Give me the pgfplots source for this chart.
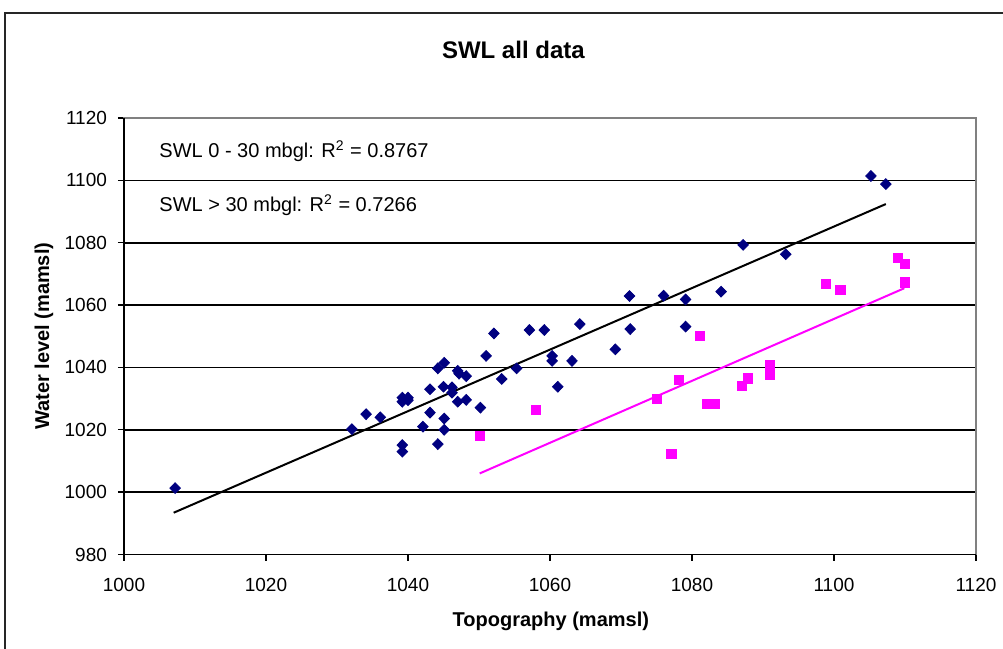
\documentclass[border=0pt]{standalone}
\usepackage{fontspec}
\setmainfont{Liberation Sans}
\usepackage{pgfplots}
\pgfplotsset{compat=1.18}
\definecolor{navy}{RGB}{0,0,128}
\definecolor{mag}{RGB}{255,0,255}
\begin{document}
\begin{tikzpicture}
\useasboundingbox (0,0) rectangle (501.5pt,324.5pt);
\draw[line width=1pt, black!85] (2.5pt,0) -- (2.5pt,318pt) -- (501.5pt,318pt);
\begin{axis}[
  at={(62pt,47.25pt)}, anchor=south west,
  scale only axis, width=426pt, height=218.25pt,
  xmin=1000, xmax=1120, ymin=980, ymax=1120,
  xtick={1000,1020,...,1120}, ytick={980,1000,...,1120},
  tick align=outside, major tick length=3pt,
  tick style={black, line width=0.7pt},
  xtick pos=bottom, ytick pos=left,
  axis line style={draw=gray, line width=0.7pt},
  ymajorgrids, grid style={black, line width=0.8pt},
  /pgf/number format/assume math mode=true,
  /pgf/number format/1000 sep={},
  ticklabel style={font=\fontsize{9.5}{11}\selectfont},
  xticklabel style={yshift=-5.5pt},
  yticklabel style={xshift=-2pt},
  title={\bfseries SWL all data},
  title style={font=\fontsize{12}{14}\selectfont, at={(rel axis cs:0.457,1.1285)}, anchor=center},
  xlabel={\bfseries Topography (mamsl)},
  xlabel style={font=\fontsize{10}{12}\selectfont, at={(rel axis cs:0.501,-0.153)}, anchor=center},
  ylabel={\bfseries Water level (mamsl)},
  ylabel style={font=\fontsize{10}{12}\selectfont, at={(rel axis cs:-0.094,0.5)}, anchor=center, rotate=0},
  clip=false,
]
\addplot[only marks, mark=diamond*, mark size=2.7pt, mark options={xscale=1.3, fill=navy, draw=navy}] coordinates {
(1007.2,1001.3) (1032.1,1020.2) (1034.1,1025.0) (1036.1,1024.0)
(1039.2,1030.3) (1040.0,1030.3) (1039.2,1029.0) (1040.0,1029.5)
(1039.2,1015.1) (1039.2,1013.0) (1043.1,1033.0) (1043.1,1025.5)
(1042.1,1021.0) (1044.2,1015.4) (1045.1,1023.6) (1045.1,1020.0)
(1044.2,1039.7) (1045.1,1041.5) (1047.0,1038.9) (1047.2,1038.0)
(1048.2,1037.2) (1045.0,1033.8) (1046.2,1033.6) (1046.2,1031.9)
(1047.0,1029.0) (1048.2,1029.6) (1050.2,1027.1) (1051.0,1043.7)
(1052.1,1050.9) (1053.2,1036.3) (1055.3,1039.7) (1057.1,1052.0)
(1059.2,1052.0) (1060.3,1043.7) (1060.3,1042.1) (1061.1,1033.8)
(1063.1,1042.1) (1064.2,1053.9) (1069.2,1045.8) (1071.3,1052.3)
(1071.2,1062.9) (1076.0,1063.0) (1079.1,1061.8) (1079.1,1053.1)
(1084.1,1064.3) (1087.2,1079.3) (1093.2,1076.3) (1105.2,1101.4)
(1107.3,1098.8)
};
\addplot[only marks, mark=square*, mark size=2.3pt, mark options={fill=mag, draw=mag}] coordinates {
(1050.1,1018.0) (1058.0,1026.3) (1075.1,1029.8) (1077.1,1012.2)
(1078.2,1036.0) (1081.1,1050.1) (1082.1,1028.2) (1083.2,1028.2)
(1087.0,1034.0) (1087.9,1036.5) (1091.0,1040.7) (1091.0,1037.7)
(1098.9,1066.8) (1100.9,1064.8) (1109.0,1075.2) (1110.0,1073.2)
(1110.0,1067.3)
};
\addplot[black, line width=1pt] coordinates {(1007.0,993.4) (1107.3,1092.4)};
\addplot[mag, line width=1pt] coordinates {(1050.1,1006.0) (1109.9,1065.4)};
\draw[gray, line width=0.8pt] (rel axis cs:0,1) -- (rel axis cs:1,1);
\draw[black, line width=0.8pt] (rel axis cs:0,1) -- (rel axis cs:0,0) -- (rel axis cs:1,0);
\node[anchor=west, font=\fontsize{10}{12}\selectfont] at (axis cs:1004.0,1109.4) {SWL 0 - 30 mbgl: R\textsuperscript{2} = 0.8767};
\node[anchor=west, font=\fontsize{10}{12}\selectfont] at (axis cs:1004.0,1092.1) {SWL > 30 mbgl: R\textsuperscript{2} = 0.7266};
\end{axis}
\end{tikzpicture}
\end{document}
